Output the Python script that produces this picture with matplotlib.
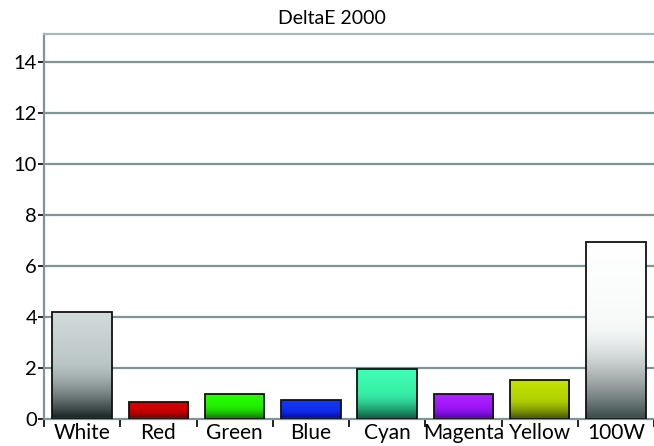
import numpy as np
import matplotlib
matplotlib.use("Agg")
import matplotlib.pyplot as plt
from matplotlib.colors import LinearSegmentedColormap, to_rgb

plt.rcParams["font.family"] = ["Lato", "DejaVu Sans"]

categories = ["White", "Red", "Green", "Blue", "Cyan", "Magenta", "Yellow", "100W"]
values = [4.2, 0.68, 0.98, 0.75, 1.96, 0.98, 1.53, 6.94]
# (top, base, bottom) colour of each bar's gradient
top_colors = ["#d3dcdc", "#d80000", "#28ff00", "#1838ff", "#40ffb4", "#b424ff", "#c4e400", "#ffffff"]
base_colors = ["#bcc7c7", "#cc0000", "#22f000", "#1030f0", "#38f0a8", "#a018f8", "#b4d400", "#f8fafa"]
dark_colors = ["#142020", "#600000", "#0a6a00", "#0000a0", "#085238", "#4a00b0", "#404e00", "#3a4848"]
yticks = [0, 2, 4, 6, 8, 10, 12, 14]

grid_col = "#7f9494"


def bar_cmap(c_top, c_base, c_dark):
    # dark at the bottom, easing into the base colour about halfway up
    top, base, dark = map(np.array, (to_rgb(c_top), to_rgb(c_base), to_rgb(c_dark)))
    stops = []
    for t in np.linspace(0, 1, 21):
        if t < 0.55:
            f = (1 - t / 0.55) ** 1.6
            c = base * (1 - f) + dark * f
        else:
            f = (t - 0.55) / 0.45
            c = base * (1 - f) + top * f
        stops.append((t, tuple(np.clip(c, 0, 1))))
    return LinearSegmentedColormap.from_list("g", stops)


fig = plt.figure(figsize=(6.54, 4.46), dpi=100)
ax = fig.add_axes([44 / 654, 27 / 446, 610 / 654, 385 / 446])

x = np.arange(len(categories))
bars = ax.bar(x, values, width=0.78, color="none", edgecolor="#111111",
              linewidth=1.3, zorder=3)

# gradient fill, clipped to each bar
for b, c_top, c_base, c_dark in zip(bars, top_colors, base_colors, dark_colors):
    bx, by = b.get_x(), b.get_y()
    grad = np.linspace(0, 1, 256).reshape(-1, 1)
    im = ax.imshow(grad, cmap=bar_cmap(c_top, c_base, c_dark), origin="lower",
                   aspect="auto", interpolation="bilinear",
                   extent=[bx, bx + b.get_width(), by, by + b.get_height()],
                   zorder=2)
    im.set_clip_path(b)

ax.set_xlim(-0.5, len(categories) - 0.5)
ax.set_ylim(0, 15.1)

ax.set_yticks(yticks)
ax.set_yticklabels([str(t) for t in yticks], fontsize=14.5)
for t in yticks[1:]:
    ax.axhline(t, color=grid_col, lw=1.6, zorder=1)

ax.set_xticks(np.arange(len(categories) + 1) - 0.5)
ax.set_xticklabels([])
ax.set_xticks(x, minor=True)
ax.set_xticklabels(categories, minor=True, fontsize=15)
ax.tick_params(axis="x", which="major", length=6, width=1.3, color="#111111", direction="out")
ax.tick_params(axis="x", which="minor", length=0, pad=3)
ax.tick_params(axis="y", length=4, width=1.3, color="#111111", pad=1)

for side in ["left", "bottom", "top"]:
    ax.spines[side].set_color(grid_col)
    ax.spines[side].set_linewidth(1.6)
ax.spines["top"].set_color("#a9b8b8")
ax.spines["right"].set_visible(False)

fig.text(332 / 654, 1 - 19 / 446, "DeltaE 2000", ha="center", va="center", fontsize=14)

fig.savefig("out.png", dpi=100)
